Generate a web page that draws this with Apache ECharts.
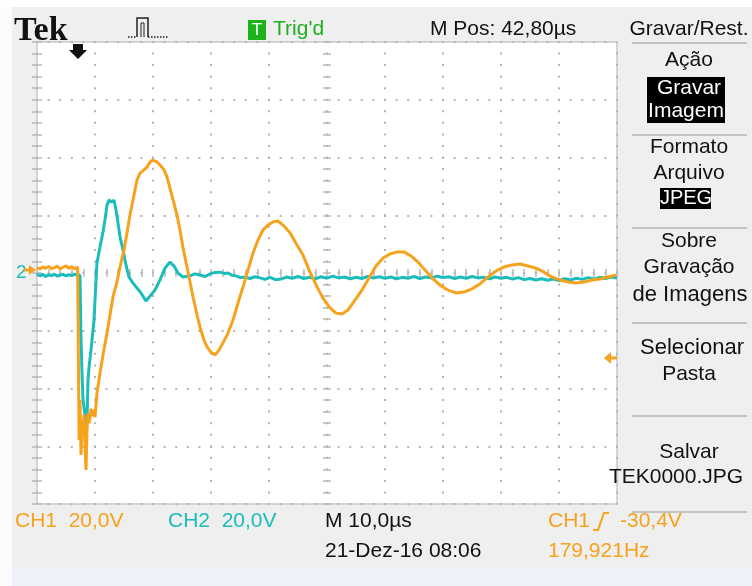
<!DOCTYPE html>
<html>
<head>
<meta charset="utf-8">
<style>html,body{margin:0;padding:0;background:#fff}#c{width:752px;height:586px}</style>
<script src="https://cdn.jsdelivr.net/npm/echarts/dist/echarts.min.js"></script>
</head>
<body>
<div id="c"></div>
<script>
// CH1 (orange) time in µs (10 µs/div) and volts
const ch1Time = [0,0.5,1,1.5,2,2.5,3,3.5,4,4.5,5,5.5,6,6.5,7,7.24,
  7.26,7.41,7.59,7.76,7.93,8.1,8.28,8.45,8.62,8.79,8.97,9.14,9.31,9.48,9.66,10.0,10.34,10.86,11.38,12.07,12.59,13.1,13.79,14.31,15.0,15.52,16.03,16.55,17.24,17.76,18.45,18.97,19.48,20.0,20.69,21.21,21.9,22.41,22.93,23.45,24.14,24.66,25.17,25.86,26.38,26.9,27.59,28.1,28.79,29.31,30.0,30.69,31.38,32.07,32.93,33.79,34.66,35.52,36.38,37.24,38.1,38.97,39.83,40.69,41.55,42.41,43.62,44.83,45.86,47.07,48.28,49.31,50.52,51.55,52.59,53.62,54.83,56.03,57.24,58.45,59.66,60.86,62.07,63.28,64.48,65.69,66.9,68.1,69.48,70.86,72.24,73.62,75.0,76.38,77.76,79.14,80.52,81.9,83.28,84.66,86.03,87.41,88.79,90.17,91.55,92.93,94.31,95.69,97.07,98.45,99.83];
const ch1Volts = [1.9,1.4,2.1,1.6,2.3,1.5,1.8,2.4,1.4,2.0,2.5,1.6,2.2,1.5,2.1,1.8,
  -57.8,-44,-63,-50.9,-56,-49,-60,-68.2,-54.4,-48.5,-52,-50.2,-47,-49.5,-47.4,-49.9,-41.6,-34.6,-28.4,-20.8,-14.5,-8.3,-3.1,2.1,8.0,13.9,20.1,25.3,32.2,34.6,35.7,36.7,38.4,39.1,38.4,37.4,35.7,33.2,29.4,25.3,20.1,14.9,8.7,2.1,-3.1,-8.3,-14.5,-18.7,-23.2,-25.6,-27.4,-28.4,-26.7,-24.2,-20.8,-16.3,-10.4,-4.8,1.0,6.9,11.4,14.9,16.6,17.7,18.0,16.6,13.9,9.7,6.2,0.3,-4.8,-8.7,-12.1,-13.9,-14.2,-12.8,-9.4,-5.9,-1.7,2.4,5.2,6.6,7.3,7.3,5.9,3.8,1.0,-1.7,-4.2,-5.9,-6.9,-6.6,-5.5,-3.8,-1.4,0.7,2.1,2.8,3.1,2.4,1.7,0.3,-1.4,-2.4,-3.1,-3.5,-3.1,-2.4,-2.1,-1.4,-0.7];

// CH2 (teal)
const ch2Time = [0,0.5,1,1.5,2,2.5,3,3.5,4,4.5,5,5.5,6,6.5,7,7.41,
  7.59,7.76,7.93,8.28,8.45,8.62,8.79,8.97,9.31,9.48,9.83,10.0,10.34,10.86,11.38,11.72,12.07,12.41,12.93,13.28,13.62,13.97,14.31,14.83,15.34,15.86,16.55,17.24,17.93,18.79,19.48,20.34,21.21,22.07,22.93,23.62,
  24.31,25.17,26.38,27.2,28.1,29.0,29.83,30.7,31.55,32.4,32.93,33.6,34.31,35.1,35.86,36.7,37.6,38.45,39.3,40.2,41.1,42.07,43,44,45,46,47,48,49,50,51,52,53,54,55,56,57,58,59,60,61,62,63,64,65,66,67,68,69,70,71,72,73,74,75,76,77,78,79,80,81,82,83,84,85,86,87,88,89,90,91,92,93,94,95,96,97,98,99,100];
const ch2Volts = [-0.3,-1.0,-0.5,-1.2,-0.6,-0.9,-0.4,-1.1,-0.7,-0.5,-1.0,-0.6,-0.9,-0.4,-0.8,-0.7,
  -23.2,-34.6,-44,-49.2,-53.3,-50.9,-37.1,-32.6,-26.7,-23.2,-16.3,-9.4,3.5,9.0,14.2,18.4,23.5,25.3,24.6,25.3,21.8,17.3,12.5,8.0,2.8,-1.4,-3.5,-5.2,-6.9,-9.7,-8.0,-5.9,-2.4,1.7,3.8,2.4,
  0,-1.4,-1.0,-0.3,-0.7,-1.2,-0.3,0.2,0.3,-0.2,0,-0.8,-1.0,-1.6,-1.4,-1.9,-1.3,-1.7,-2.2,-1.5,-2.3,-2.1,-1.4,-1.8,-1.2,-1.9,-1.5,-2.0,-1.3,-1.8,-1.1,-1.7,-1.4,-2.0,-1.5,-1.9,-1.2,-1.7,-1.3,-1.8,-1.4,-2.0,-1.5,-1.8,-1.2,-1.9,-1.4,-1.7,-1.1,-1.6,-1.3,-1.9,-1.4,-1.8,-1.2,-1.7,-1.5,-2.0,-1.4,-1.8,-1.5,-2.1,-1.6,-2.3,-1.9,-2.4,-2.0,-2.5,-2.1,-2.6,-2.0,-2.4,-1.8,-2.2,-1.6,-2.1,-1.5,-1.9,-1.4,-1.7];

// Graticule: 10 horizontal divisions x 10 µs, 8 vertical divisions x 20 V
const xDivTicks = [0,10,20,30,40,50,60,70,80,90,100];
const yDivTicks = [-80,-60,-40,-20,0,20,40,60,80];

const ORANGE = '#f6a21c', TEAL = '#1bbcbc';
const FONT = '"Liberation Sans", Arial, sans-serif';

const ch1Data = ch1Time.map((t,i)=>[t, ch1Volts[i]]);
const ch2Data = ch2Time.map((t,i)=>[t, ch2Volts[i]]);

const G = {left:37, top:42, width:580, height:462};
const tickCol = '#b9b9b9';

function borderX(pos){
  return {gridIndex:0, type:'value', position:pos, min:xDivTicks[0], max:xDivTicks[xDivTicks.length-1], interval:10,
    axisLine:{show:false}, axisLabel:{show:false},
    axisTick:{show:true, inside:true, length:4, lineStyle:{color:tickCol, width:1.5}},
    minorTick:{show:true, splitNumber:5, length:4, lineStyle:{color:tickCol, width:1.5}},
    splitLine:{show: pos==='bottom', lineStyle:{color:'#b5b5b5', width:2, type:[2,9.55], dashOffset:1}}};
}
function borderY(pos){
  return {gridIndex:0, type:'value', position:pos, min:yDivTicks[0], max:yDivTicks[yDivTicks.length-1], interval:20,
    axisLine:{show:false}, axisLabel:{show:false},
    axisTick:{show:true, inside:true, length:5, lineStyle:{color:tickCol, width:1.5}},
    minorTick:{show:true, splitNumber:5, length:5, lineStyle:{color:tickCol, width:1.5}},
    splitLine:{show: pos==='left', lineStyle:{color:'#b5b5b5', width:2, type:[2,9.6], dashOffset:1}}};
}
function centerX(pos){
  return {gridIndex:1, type:'value', position:pos, min:-50, max:50, interval:10,
    axisLine:{show:false, onZero:true}, axisLabel:{show:false}, splitLine:{show:false},
    axisTick:{show:true, inside:true, length:4, lineStyle:{color:tickCol, width:1.5}},
    minorTick:{show:true, splitNumber:5, length:4, lineStyle:{color:tickCol, width:1.5}}};
}
function centerY(pos){
  return {gridIndex:1, type:'value', position:pos, min:-80, max:80, interval:20,
    axisLine:{show:false, onZero:true}, axisLabel:{show:false}, splitLine:{show:false},
    axisTick:{show:true, inside:true, length:4, lineStyle:{color:tickCol, width:1.5}},
    minorTick:{show:true, splitNumber:5, length:4, lineStyle:{color:tickCol, width:1.5}}};
}

function txt(text, x, y, color, size, align, extra){
  return Object.assign({type:'text', x:x, y:y, z:50, style:{text:text, fill:color, fontSize:size||21,
    fontFamily:FONT, align:align||'left', verticalAlign:'middle'}}, extra||{});
}
function sep(y){ return {type:'line', z:50, shape:{x1:632,y1:y,x2:747,y2:y}, style:{stroke:'#c4c4c4', lineWidth:2}}; }

const graphics = [
  {type:'rect', z:-5, shape:{x:0,y:0,width:12,height:586}, style:{fill:'#fbfbfb'}},
  {type:'rect', z:-5, shape:{x:0,y:0,width:752,height:7}, style:{fill:'#ffffff'}},
  {type:'rect', z:-5, shape:{x:12,y:569,width:740,height:17}, style:{fill:'#eef2fa'}},
  // header
  {type:'text', x:14, y:31, z:50, style:{text:'Tek', fill:'#111', fontSize:34, fontWeight:'bold', fontFamily:'"Liberation Serif", serif', align:'left', verticalAlign:'middle'}},
  {type:'polyline', z:50, shape:{points:[[128,37],[137,37]]}, style:{stroke:'#222', lineWidth:1.5, lineDash:[1.5,1.5]}},
  {type:'polyline', z:50, shape:{points:[[137,37],[137,18],[148,18],[148,37]]}, style:{stroke:'#222', lineWidth:1.5, fill:null}},
  {type:'polyline', z:50, shape:{points:[[141,37],[141,23],[144,23],[144,37]]}, style:{stroke:'#222', lineWidth:1, fill:null}},
  {type:'polyline', z:50, shape:{points:[[148,37],[168,37]]}, style:{stroke:'#222', lineWidth:1.5, lineDash:[1.5,1.5]}},
  {type:'rect', z:50, shape:{x:248,y:20,width:18,height:20}, style:{fill:'#1db31d'}},
  txt('T', 257, 30, '#fff', 17, 'center'),
  txt("Trig'd", 273, 29, '#1fae1f', 21),
  txt('M Pos: 42,80µs', 430, 29, '#111', 21),
  txt('Gravar/Rest.', 689, 29, '#111', 21, 'center'),
  // menu
  sep(43), sep(135), sep(228), sep(323), sep(416), sep(512),
  txt('Ação', 689, 60, '#111', 21, 'center'),
  {type:'rect', z:49, shape:{x:647,y:77,width:78,height:46}, style:{fill:'#000'}},
  txt('Gravar', 689, 88, '#fff', 21, 'center'),
  txt('Imagem', 686, 111, '#fff', 21, 'center'),
  txt('Formato', 689, 147, '#111', 21, 'center'),
  txt('Arquivo', 689, 173, '#111', 21, 'center'),
  {type:'rect', z:49, shape:{x:660,y:188,width:51,height:21}, style:{fill:'#000'}},
  txt('JPEG', 686, 198, '#fff', 20, 'center'),
  txt('Sobre', 689, 241, '#111', 21, 'center'),
  txt('Gravação', 689, 267, '#111', 21, 'center'),
  txt('de Imagens', 690, 295, '#111', 22, 'center'),
  txt('Selecionar', 692, 348, '#111', 22, 'center'),
  txt('Pasta', 689, 374, '#111', 21, 'center'),
  txt('Salvar', 689, 452, '#111', 21, 'center'),
  txt('TEK0000.JPG', 676, 477, '#111', 21, 'center'),
  // footer
  txt('CH1  20,0V', 15, 521, ORANGE, 21),
  txt('CH2  20,0V', 168, 521, TEAL, 21),
  txt('M 10,0µs', 325, 521, '#111', 21),
  txt('CH1', 548, 521, ORANGE, 21),
  {type:'polyline', z:50, shape:{points:[[593,530],[598,530],[604,513],[609,513]]}, style:{stroke:ORANGE, lineWidth:2, fill:null}},
  txt('-30,4V', 620, 521, ORANGE, 21),
  txt('21-Dez-16 08:06', 325, 551, '#111', 21),
  txt('179,921Hz', 548, 551, ORANGE, 21),
  // markers
  {type:'polygon', z:60, shape:{points:[[73,44],[83,44],[83,50],[87,50],[78,59],[69,50],[73,50]]}, style:{fill:'#111'}},
  txt('2', 16, 273, TEAL, 19),
  {type:'polygon', z:60, shape:{points:[[36,270],[29,265],[29,268.5],[24,268.5],[24,271.5],[29,271.5],[29,275]]}, style:{fill:ORANGE}},
  {type:'polygon', z:60, shape:{points:[[604,358],[611,352],[611,356.5],[617,356.5],[617,359.5],[611,359.5],[611,364]]}, style:{fill:ORANGE}}
];

const chart = echarts.init(document.getElementById('c'), null, {renderer:'canvas'});
chart.setOption({
  animation:false,
  backgroundColor:'#efefef',
  grid:[
    Object.assign({show:true, backgroundColor:'#ffffff', borderColor:'#c9c9c9', borderWidth:1.5}, G),
    Object.assign({show:false}, G)
  ],
  xAxis:[borderX('bottom'), borderX('top'), centerX('bottom'), centerX('top')],
  yAxis:[borderY('left'), borderY('right'), centerY('left'), centerY('right')],
  series:[
    {name:'CH2', type:'line', xAxisIndex:0, yAxisIndex:0, data:ch2Data, showSymbol:false, z:3,
      lineStyle:{color:TEAL, width:3}, itemStyle:{color:TEAL}},
    {name:'CH1', type:'line', xAxisIndex:0, yAxisIndex:0, data:ch1Data, showSymbol:false, z:4,
      lineStyle:{color:ORANGE, width:3}, itemStyle:{color:ORANGE}}
  ],
  graphic:graphics
});
</script>
</body>
</html>
